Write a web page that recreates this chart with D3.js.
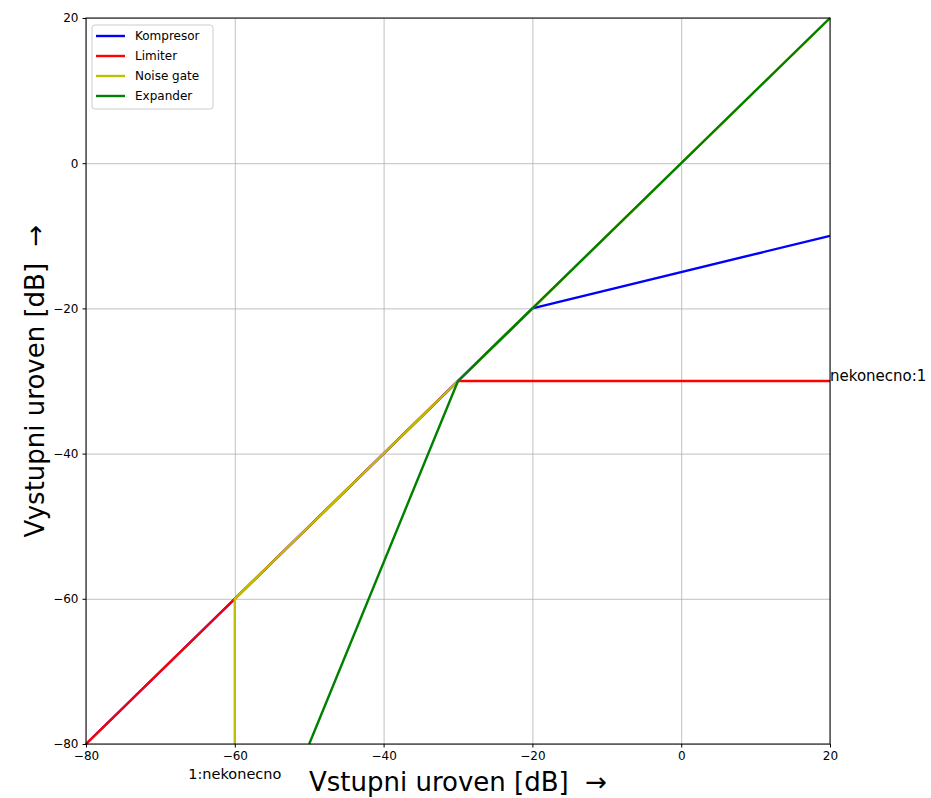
<!DOCTYPE html>
<meta charset="utf-8">
<style>
  body { margin: 0; background: #fff; }
  text { font-family: "DejaVu Sans", sans-serif; }
  .grid line { stroke: #b0b0b0; stroke-width: 0.8; }
  .grid path { display: none; }
  .axis text { font-size: 12px; fill: #000; }
  .axis path, .axis line { stroke: #000; }
</style>
<script src="https://d3js.org/d3.v7.min.js"></script>
<div id="chart"></div>
<script>

// tick values
var xTicks = [-80, -60, -40, -20, 0, 20];
var yTicks = [-80, -60, -40, -20, 0, 20];

// series: breakpoints [input dB, output dB]
var kompresor = [[-80, -80], [-20, -20], [20, -10]];
var limiter = [[-80, -80], [-30, -30], [20, -30]];
var noiseGate = [[-60, -80], [-60, -60], [-30, -30], [20, 20]];
var expander = [[-50, -80], [-30, -30], [20, 20]];

var seriesNames = ["Kompresor", "Limiter", "Noise gate", "Expander"];
var seriesColors = ["#0000ff", "#ff0000", "#bfbf00", "#008000"];

var margin = {top: 18, right: 101, bottom: 54, left: 86},
    width = 931 - margin.left - margin.right,
    height = 798 - margin.top - margin.bottom;

var svg = d3.select("#chart")
  .append("svg")
    .attr("width", 931)
    .attr("height", 798)
  .append("g")
    .attr("transform", "translate(" + margin.left + "," + margin.top + ")");

var x = d3.scaleLinear().domain([-80, 20]).range([0, width]);
var y = d3.scaleLinear().domain([-80, 20]).range([height, 0]);

// grid
svg.append("g")
    .attr("class", "grid")
    .attr("transform", "translate(0," + height + ")")
    .call(d3.axisBottom(x).tickValues(xTicks).tickSize(-height).tickFormat(""));
svg.append("g")
    .attr("class", "grid")
    .call(d3.axisLeft(y).tickValues(yTicks).tickSize(-width).tickFormat(""));

// lines
var line = d3.line()
    .x(function(d) { return x(d[0]); })
    .y(function(d) { return y(d[1]); });

var data = [kompresor, limiter, noiseGate, expander];
svg.selectAll(".series")
  .data(data)
  .enter()
  .append("path")
    .attr("class", "series")
    .attr("d", line)
    .attr("fill", "none")
    .attr("stroke", function(d, i) { return seriesColors[i]; })
    .attr("stroke-width", 2.4)
    .attr("stroke-linejoin", "round");

// frame
svg.append("rect")
    .attr("width", width)
    .attr("height", height)
    .attr("fill", "none")
    .attr("stroke", "#000")
    .attr("stroke-width", 1);

// axes
var fmt = function(d) { return d < 0 ? "\u2212" + Math.abs(d) : d; };
svg.append("g")
    .attr("class", "axis")
    .attr("transform", "translate(0," + height + ")")
    .call(d3.axisBottom(x).tickValues(xTicks).tickSize(3.5).tickPadding(4).tickFormat(fmt))
    .call(function(g) { g.select(".domain").remove(); });
svg.append("g")
    .attr("class", "axis")
    .call(d3.axisLeft(y).tickValues(yTicks).tickSize(3.5).tickPadding(4).tickFormat(fmt))
    .call(function(g) { g.select(".domain").remove(); });

// annotations
svg.append("text")
    .attr("x", x(-60))
    .attr("y", height + 35)
    .attr("text-anchor", "middle")
    .style("font-size", "14.5px")
    .text("1:nekonecno");
svg.append("text")
    .attr("x", x(20))
    .attr("y", y(-30))
    .style("font-size", "15px")
    .text("nekonecno:1");

// axis labels
svg.append("text")
    .attr("x", width / 2)
    .attr("y", height + 47)
    .attr("text-anchor", "middle")
    .style("font-size", "26px")
    .style("white-space", "pre")
    .text("Vstupni uroven [dB]  \u2192");
svg.append("text")
    .attr("transform", "translate(" + (-42) + "," + (height / 2) + ") rotate(-90)")
    .attr("text-anchor", "middle")
    .style("font-size", "26px")
    .style("white-space", "pre")
    .text("Vystupni uroven [dB]  \u2192");

// legend
var legend = svg.append("g").attr("transform", "translate(6,7)");
legend.append("rect")
    .attr("width", 121)
    .attr("height", 84)
    .attr("rx", 3)
    .attr("fill", "#fff")
    .attr("fill-opacity", 0.8)
    .attr("stroke", "#ccc");
var items = legend.selectAll(".item")
  .data(seriesNames)
  .enter()
  .append("g")
    .attr("class", "item")
    .attr("transform", function(d, i) { return "translate(0," + (11 + i * 20) + ")"; });
items.append("line")
    .attr("x1", 4).attr("x2", 33)
    .attr("stroke", function(d, i) { return seriesColors[i]; })
    .attr("stroke-width", 2.4);
items.append("text")
    .attr("x", 43)
    .attr("dy", "0.35em")
    .style("font-size", "12px")
    .text(function(d) { return d; });

</script>
